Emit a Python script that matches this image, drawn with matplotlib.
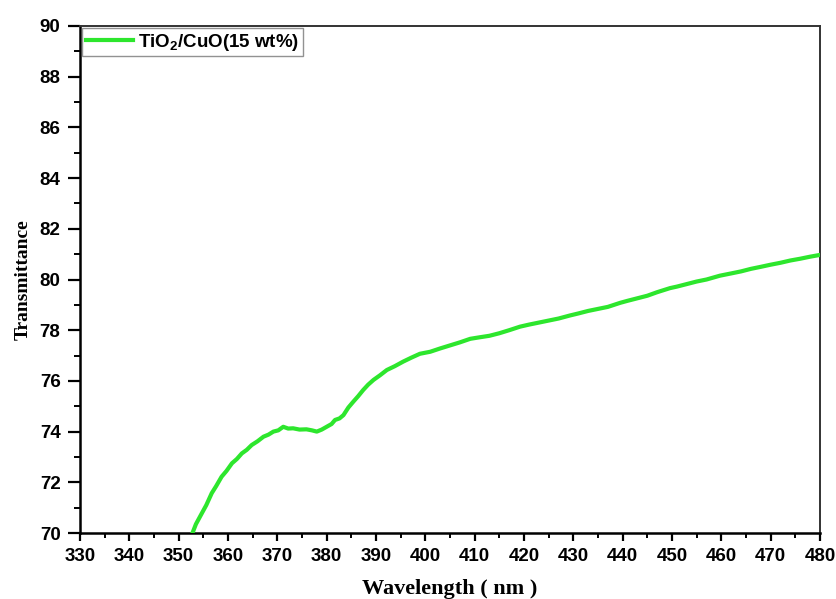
import matplotlib
matplotlib.use("Agg")
import matplotlib.pyplot as plt
from matplotlib.ticker import MultipleLocator

plt.rcParams["mathtext.fontset"] = "custom"
plt.rcParams["mathtext.rm"] = "Liberation Sans:bold"
plt.rcParams["mathtext.bf"] = "Liberation Sans:bold"

wavelength = [352.8, 353.5, 354.7, 355.6, 356.7, 357.6, 358.7, 359.7, 360.8, 361.8,
              362.8, 363.8, 364.8, 366.0, 367.2, 368.2, 369.2, 370.2, 371.2, 372.2,
              373.2, 374.5, 375.9, 377.0, 378.0, 379.0, 380.0, 381.0, 381.7, 382.6,
              383.4, 384.4, 385.4, 386.4, 387.4, 388.4, 389.5, 390.8, 392.2, 393.8,
              395.5, 397.2, 398.9, 401.0, 403.0, 405.0, 407.0, 409.1, 411.0, 413.0,
              415.0, 417.0, 419.2, 421.0, 423.0, 425.0, 427.0, 429.3, 431.0, 433.0,
              435.0, 437.0, 439.5, 441.0, 443.0, 445.0, 447.0, 449.6, 451.0, 453.0,
              455.0, 457.0, 459.7, 462.0, 464.0, 466.0, 468.0, 469.9, 472.0, 474.0,
              476.0, 478.0, 480.0]
transmittance = [70.00, 70.35, 70.78, 71.10, 71.57, 71.85, 72.22, 72.45, 72.75, 72.92,
                 73.14, 73.28, 73.47, 73.62, 73.80, 73.88, 74.00, 74.05, 74.19, 74.12,
                 74.13, 74.08, 74.09, 74.05, 74.00, 74.08, 74.19, 74.30, 74.46, 74.52,
                 74.65, 74.95, 75.18, 75.40, 75.64, 75.85, 76.04, 76.22, 76.43, 76.58,
                 76.76, 76.92, 77.07, 77.15, 77.28, 77.40, 77.52, 77.66, 77.72, 77.78,
                 77.88, 78.00, 78.14, 78.22, 78.30, 78.38, 78.46, 78.58, 78.66, 78.76,
                 78.84, 78.92, 79.08, 79.16, 79.26, 79.36, 79.50, 79.66, 79.72, 79.82,
                 79.92, 80.00, 80.15, 80.24, 80.32, 80.42, 80.50, 80.58, 80.66, 80.75,
                 80.82, 80.90, 80.97]

series_label = r"TiO$_\mathbf{2}$/CuO(15 wt%)"
xlabel = "Wavelength ( nm )"
ylabel = "Transmittance"
line_color = "#2de62d"

fig = plt.figure(figsize=(8.37, 5.99), dpi=100)
ax = fig.add_axes([80/837, 66/599, 740/837, 507/599])

ax.plot(wavelength, transmittance, color=line_color, lw=3, label=series_label, zorder=3)

ax.set_xlim(330, 480)
ax.set_ylim(70, 90)
ax.xaxis.set_major_locator(MultipleLocator(10))
ax.xaxis.set_minor_locator(MultipleLocator(5))
ax.yaxis.set_major_locator(MultipleLocator(2))
ax.yaxis.set_minor_locator(MultipleLocator(1))

for lab in ax.get_xticklabels() + ax.get_yticklabels():
    lab.set_fontfamily("Liberation Sans")
    lab.set_fontweight("bold")
    lab.set_fontsize(13.5)

ax.tick_params(axis="x", which="major", direction="out", length=6, width=1.6, pad=5)
ax.tick_params(axis="x", which="minor", direction="out", length=3.5, width=1.4)
ax.tick_params(axis="y", which="major", direction="out", length=8.5, width=1.6, pad=5.5)
ax.tick_params(axis="y", which="minor", direction="out", length=4, width=1.4)
ax.tick_params(top=False, right=False, which="both")

for side in ("left", "bottom"):
    ax.spines[side].set_linewidth(1.8)
    ax.spines[side].set_color("black")
for side in ("top", "right"):
    ax.spines[side].set_linewidth(1.4)
    ax.spines[side].set_color("#333333")

ax.set_xlabel(xlabel, fontfamily="Liberation Serif", fontweight="bold", fontsize=16, labelpad=10)
ax.set_ylabel(ylabel, fontfamily="Liberation Serif", fontweight="bold", fontsize=14, labelpad=6)

leg = ax.legend(loc="upper left", frameon=True, fancybox=False, borderaxespad=0.1,
                prop={"family": "Liberation Sans", "weight": "bold", "size": 13.5},
                handlelength=2.5, handletextpad=0.3, borderpad=0.2)
leg.get_frame().set_edgecolor("#777777")
leg.get_frame().set_linewidth(1.0)

fig.savefig("out.png", dpi=100)
